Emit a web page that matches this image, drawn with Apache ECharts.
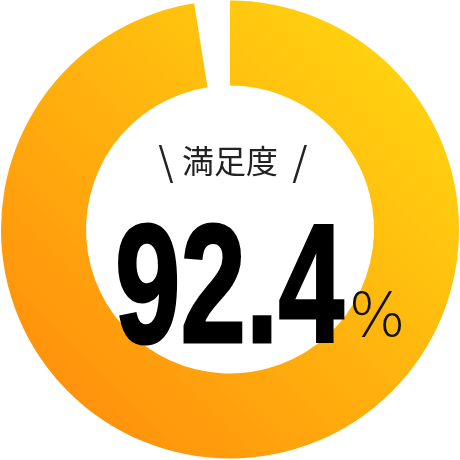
<!DOCTYPE html>
<html>
<head>
<meta charset="utf-8">
<script src="https://cdn.jsdelivr.net/npm/echarts@6/dist/echarts.min.js"></script>
<style>
html,body{margin:0;padding:0;background:#fff;}
#chart{width:460px;height:460px;}
</style>
</head>
<body>
<div id="chart"></div>
<script>
const segmentNames = ['満足度', '残り'];
const segmentValues = [97.5, 2.5];
const labelText = '満足度';
const valueText = '92.4';
const unitText = '%';

const chart = echarts.init(document.getElementById('chart'), null, {renderer: 'canvas'});
const ringGradient = new echarts.graphic.LinearGradient(0, 1, 1, 0, [
  {offset: 0, color: '#FF860C'},
  {offset: 1, color: '#FFDE10'}
]);
chart.setOption({
  animation: false,
  series: [{
    type: 'pie',
    center: [230, 229.5],
    radius: [144, 229],
    startAngle: 90,
    clockwise: true,
    silent: true,
    label: {show: false},
    labelLine: {show: false},
    emphasis: {disabled: true},
    data: segmentNames.map((n, i) => ({
      name: n,
      value: segmentValues[i],
      itemStyle: {color: i === 0 ? ringGradient : 'rgba(0,0,0,0)', borderWidth: 0}
    }))
  }],
  graphic: [
    {
      type: 'text', x: 230, y: 161, z: 100,
      style: {text: labelText, fill: '#222', font: 'normal 32px "Noto Sans CJK JP"', align: 'center', verticalAlign: 'middle'}
    },
    {
      type: 'text', x: 166, y: 161, z: 100,
      style: {text: '\\', fill: '#222', font: 'normal 39px "Noto Sans CJK JP"', align: 'center', verticalAlign: 'middle'}
    },
    {
      type: 'text', x: 300, y: 161, z: 100,
      style: {text: '/', fill: '#222', font: 'normal 39px "Noto Sans CJK JP"', align: 'center', verticalAlign: 'middle'}
    },
    {
      type: 'text', x: 115, y: 296, scaleX: 0.7, z: 100,
      style: {text: valueText, fill: '#000', font: 'bold 168px "Liberation Sans"', align: 'left', verticalAlign: 'middle', stroke: '#000', lineWidth: 3}
    },
    {
      type: 'text', x: 377, y: 320, z: 100,
      style: {text: unitText, fill: '#111', font: '200 60px "DejaVu Sans"', align: 'center', verticalAlign: 'middle'}
    }
  ]
});
</script>
</body>
</html>
